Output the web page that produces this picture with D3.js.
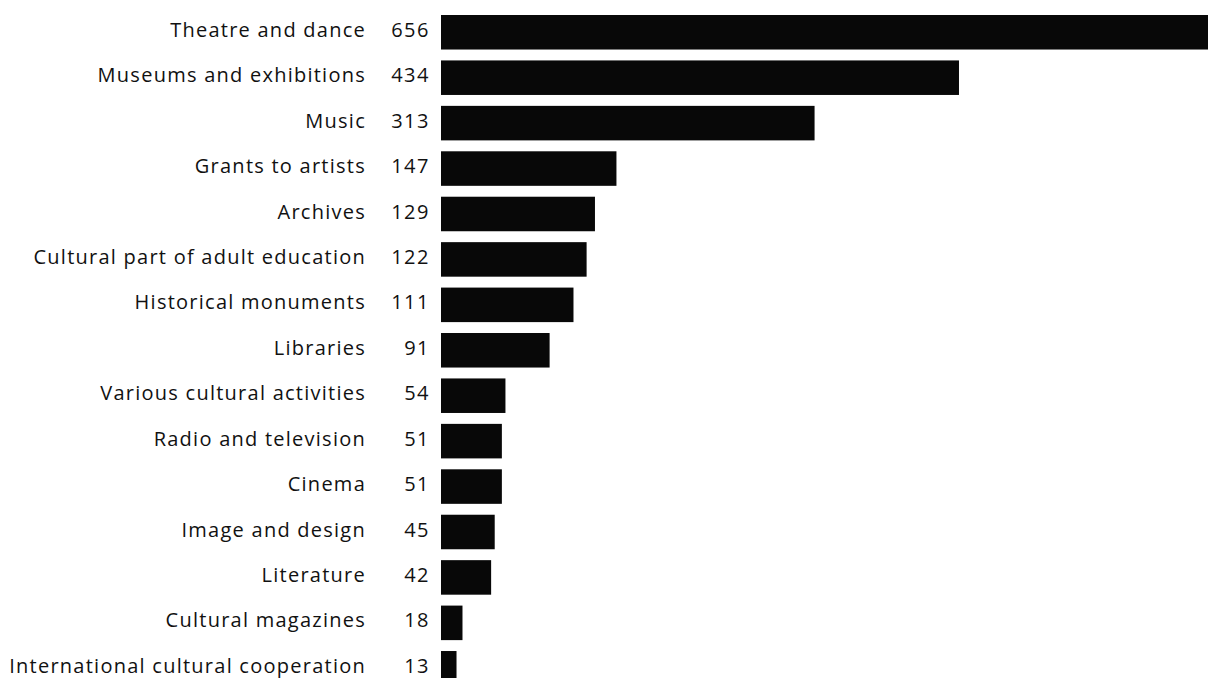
<!DOCTYPE html>
<html>
<head>
<meta charset="utf-8">
<script src="https://cdn.jsdelivr.net/npm/d3@7"></script>
<style>
  html, body { margin: 0; padding: 0; background: #fff; overflow: hidden; }
  svg { display: block; }
  text { font-family: "Open Sans", "Noto Sans", sans-serif; fill: #111; }
</style>
</head>
<body>
<svg id="chart" width="1208" height="678"></svg>
<script>
// Cultural spending by field
const categories = [
  "Theatre and dance",
  "Museums and exhibitions",
  "Music",
  "Grants to artists",
  "Archives",
  "Cultural part of adult education",
  "Historical monuments",
  "Libraries",
  "Various cultural activities",
  "Radio and television",
  "Cinema",
  "Image and design",
  "Literature",
  "Cultural magazines",
  "International cultural cooperation"
];
const values = [656, 434, 313, 147, 129, 122, 111, 91, 54, 51, 51, 45, 42, 18, 13];

const svg = d3.select("#chart");

const barLeft = 441;
const y = d3.scaleBand()
  .domain(categories)
  .range([9.55, 691])
  .paddingInner(0.24)
  .paddingOuter(0.12);

const x = d3.scaleLinear()
  .domain([0, 656])
  .range([barLeft, barLeft + 656 * 1.1935]);

const rows = svg.append("g")
  .selectAll("g")
  .data(categories.map((c, i) => ({ name: c, value: values[i] })))
  .join("g");

rows.append("rect")
  .attr("x", x(0))
  .attr("y", d => y(d.name))
  .attr("width", d => x(d.value) - x(0))
  .attr("height", y.bandwidth())
  .attr("fill", "#080808");

rows.append("text")
  .attr("x", 366)
  .attr("y", d => y(d.name) + y.bandwidth() / 2)
  .attr("dy", "0.23em")
  .attr("text-anchor", "end")
  .attr("font-size", 20)
  .attr("letter-spacing", "1.25px")
  .text(d => d.name);

rows.append("text")
  .attr("x", 430)
  .attr("y", d => y(d.name) + y.bandwidth() / 2)
  .attr("dy", "0.23em")
  .attr("text-anchor", "end")
  .attr("font-size", 20)
  .attr("letter-spacing", "1.5px")
  .text(d => d.value);
</script>
</body>
</html>
